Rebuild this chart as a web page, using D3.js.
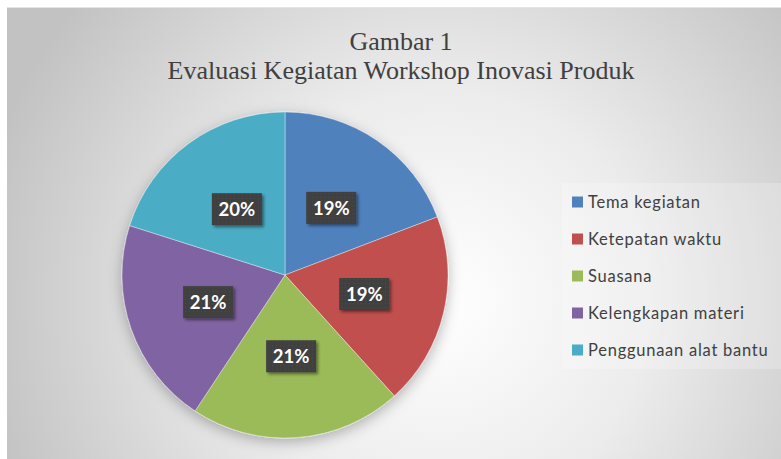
<!DOCTYPE html>
<html>
<head>
<meta charset="utf-8">
<script src="https://cdn.jsdelivr.net/npm/d3@7"></script>
<style>
  html, body { margin: 0; padding: 0; background: #fff; }
  svg { display: block; }
</style>
</head>
<body>
<svg width="781" height="459"></svg>
<script>
// chart data
const categories = ["Tema kegiatan", "Ketepatan waktu", "Suasana", "Kelengkapan materi", "Penggunaan alat bantu"];
const values = [19.2, 19.1, 21.0, 20.6, 20.1];
const labels = ["19%", "19%", "21%", "21%", "20%"];
const colors = ["#4f81bd", "#c0504d", "#9bbb59", "#8064a2", "#4bacc6"];
const titleLines = ["Gambar 1", "Evaluasi Kegiatan Workshop Inovasi Produk"];

const width = 781, height = 459;
const svg = d3.select("svg");
const defs = svg.append("defs");

// background gradient, white near the middle, grey at the edges
const bg = defs.append("radialGradient")
    .attr("id", "bg")
    .attr("gradientUnits", "userSpaceOnUse")
    .attr("cx", 440).attr("cy", 300).attr("r", 470);
bg.append("stop").attr("offset", "0%").attr("stop-color", "#ffffff");
bg.append("stop").attr("offset", "45%").attr("stop-color", "#ececec");
bg.append("stop").attr("offset", "100%").attr("stop-color", "#c2c2c2");

// soft shadow for the pie and the label boxes
const sh = defs.append("filter").attr("id", "pieShadow")
    .attr("x", "-20%").attr("y", "-20%").attr("width", "140%").attr("height", "140%");
sh.append("feDropShadow").attr("dx", 0).attr("dy", 4).attr("stdDeviation", 7)
    .attr("flood-color", "#000").attr("flood-opacity", 0.28);

const bs = defs.append("filter").attr("id", "boxShadow")
    .attr("x", "-30%").attr("y", "-30%").attr("width", "160%").attr("height", "160%");
bs.append("feDropShadow").attr("dx", 2).attr("dy", 2).attr("stdDeviation", 1.5)
    .attr("flood-color", "#000").attr("flood-opacity", 0.45);

// dotted texture of the label boxes
const pat = defs.append("pattern").attr("id", "dots")
    .attr("width", 4).attr("height", 4).attr("patternUnits", "userSpaceOnUse");
pat.append("rect").attr("width", 4).attr("height", 4).attr("fill", "#3f3f3f");
pat.append("rect").attr("x", 1).attr("y", 1).attr("width", 1).attr("height", 1).attr("fill", "#4f4f4f");

svg.append("rect")
    .attr("x", 7).attr("y", 7)
    .attr("width", width - 7).attr("height", height - 7)
    .attr("fill", "url(#bg)");
svg.append("line")
    .attr("x1", 7).attr("x2", width).attr("y1", 7.5).attr("y2", 7.5)
    .attr("stroke", "#e4e4e4");

// title
svg.append("text")
    .attr("x", 401).attr("y", 50)
    .attr("text-anchor", "middle")
    .attr("font-family", "'Liberation Serif', 'Times New Roman', serif")
    .attr("font-size", 26)
    .attr("fill", "#404040")
    .selectAll("tspan")
    .data(titleLines)
    .join("tspan")
    .attr("x", 401)
    .attr("dy", (d, i) => i ? 29 : 0)
    .text(d => d);

// pie
const cx = 285, cy = 275, r = 163;
const pie = d3.pie().sort(null).value(d => d);
const arcs = pie(values);
const arc = d3.arc().innerRadius(0).outerRadius(r);
const labelArc = d3.arc().innerRadius(r * 0.5).outerRadius(r * 0.5);

const g = svg.append("g").attr("transform", `translate(${cx},${cy})`);

g.append("g")
    .attr("filter", "url(#pieShadow)")
    .selectAll("path")
    .data(arcs)
    .join("path")
    .attr("d", arc)
    .attr("fill", (d, i) => colors[i])
    .attr("stroke", "#ffffff")
    .attr("stroke-opacity", 0.5)
    .attr("stroke-width", 0.75);

const lab = g.append("g")
    .selectAll("g")
    .data(arcs)
    .join("g")
    .attr("transform", d => `translate(${labelArc.centroid(d)})`);

lab.append("rect")
    .attr("x", -25).attr("y", -16)
    .attr("width", 50).attr("height", 32)
    .attr("fill", "url(#dots)")
    .attr("filter", "url(#boxShadow)");

lab.append("text")
    .attr("text-anchor", "middle")
    .attr("dy", "0.36em")
    .attr("font-family", "Lato, 'Open Sans', sans-serif")
    .attr("font-weight", "bold")
    .attr("font-size", 18.5)
    .attr("fill", "#ffffff")
    .text((d, i) => labels[i]);

// legend
const legendY = d3.scalePoint().domain(categories).range([202, 350]);

svg.append("rect")
    .attr("x", 562).attr("y", 183)
    .attr("width", 219).attr("height", 186)
    .attr("fill", "#ffffff")
    .attr("fill-opacity", 0.22);

const leg = svg.append("g")
    .selectAll("g")
    .data(categories)
    .join("g")
    .attr("transform", d => `translate(572,${legendY(d)})`);

leg.append("rect")
    .attr("x", 0).attr("y", -5.5)
    .attr("width", 11).attr("height", 11)
    .attr("fill", (d, i) => colors[i]);

leg.append("text")
    .attr("x", 16)
    .attr("dy", "0.35em")
    .attr("font-family", "Lato, 'Open Sans', sans-serif")
    .attr("font-size", 16.5)
    .attr("letter-spacing", 0.75)
    .attr("fill", "#404040")
    .text(d => d);
</script>
</body>
</html>
